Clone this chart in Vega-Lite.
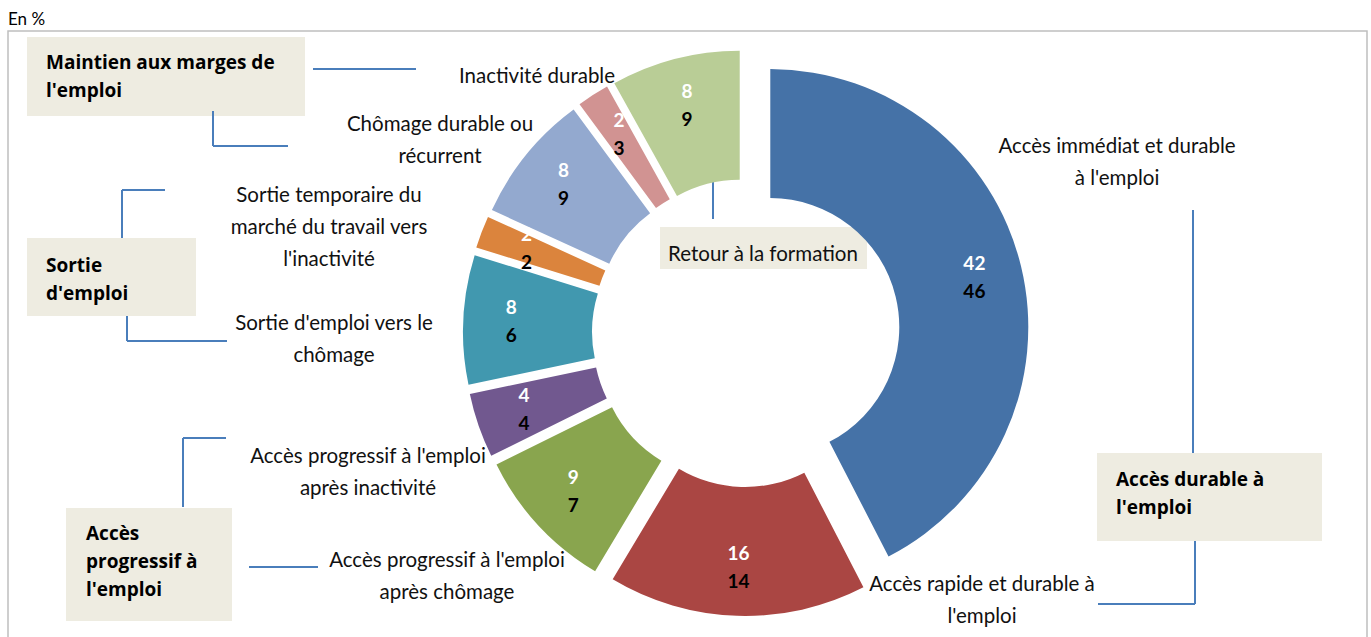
{
  "$schema": "https://vega.github.io/schema/vega-lite/v6.json",
  "width": 1371,
  "height": 637,
  "autosize": {"type": "none"},
  "padding": 0,
  "background": "white",
  "config": {"view": {"stroke": null}, "font": "Lato"},
  "datasets": {
    "segments": [
      {"categorie": "Accès immédiat et durable à l'emploi", "o": 1, "v1": 42, "v2": 46},
      {"categorie": "Accès rapide et durable à l'emploi", "o": 2, "v1": 16, "v2": 14},
      {"categorie": "Accès progressif à l'emploi après chômage", "o": 3, "v1": 9, "v2": 7},
      {"categorie": "Accès progressif à l'emploi après inactivité", "o": 4, "v1": 4, "v2": 4},
      {"categorie": "Sortie d'emploi vers le chômage", "o": 5, "v1": 8, "v2": 6},
      {"categorie": "Sortie temporaire du marché du travail vers l'inactivité", "o": 6, "v1": 2, "v2": 2},
      {"categorie": "Chômage durable ou récurrent", "o": 7, "v1": 8, "v2": 9},
      {"categorie": "Inactivité durable", "o": 8, "v1": 2, "v2": 3},
      {"categorie": "Retour à la formation", "o": 9, "v1": 8, "v2": 9}
    ],
    "frame": [{"x": 8, "x2": 1367, "y": 31, "y2": 645}],
    "boxes": [
      {"x": 27, "x2": 305, "y": 37, "y2": 116},
      {"x": 27, "x2": 196, "y": 238, "y2": 316},
      {"x": 66, "x2": 232, "y": 508, "y2": 621},
      {"x": 1097, "x2": 1322, "y": 453, "y2": 541},
      {"x": 660, "x2": 867, "y": 227, "y2": 269}
    ],
    "connectors": [
      {"x": 313, "y": 69, "x2": 416, "y2": 69},
      {"x": 213, "y": 111, "x2": 213, "y2": 146},
      {"x": 213, "y": 146, "x2": 288, "y2": 146},
      {"x": 122, "y": 190, "x2": 122, "y2": 238},
      {"x": 122, "y": 190, "x2": 165, "y2": 190},
      {"x": 127, "y": 316, "x2": 127, "y2": 341},
      {"x": 127, "y": 341, "x2": 227, "y2": 341},
      {"x": 183, "y": 438, "x2": 183, "y2": 507},
      {"x": 183, "y": 438, "x2": 226, "y2": 438},
      {"x": 249, "y": 567, "x2": 318, "y2": 567},
      {"x": 1193, "y": 210, "x2": 1193, "y2": 453},
      {"x": 1195, "y": 541, "x2": 1195, "y2": 604},
      {"x": 1098, "y": 604, "x2": 1195, "y2": 604},
      {"x": 713, "y": 181, "x2": 713, "y2": 219}
    ],
    "labels": [
      {"label": "Accès immédiat et durable\nà l'emploi", "x": 1117, "y": 153},
      {"label": "Accès rapide et durable à\nl'emploi", "x": 982, "y": 591},
      {"label": "Accès progressif à l'emploi\naprès chômage", "x": 447, "y": 567},
      {"label": "Accès progressif à l'emploi\naprès inactivité", "x": 368, "y": 463},
      {"label": "Sortie d'emploi vers le\nchômage", "x": 334, "y": 330},
      {"label": "Sortie  temporaire du\nmarché du travail vers\nl'inactivité", "x": 329, "y": 202},
      {"label": "Chômage durable ou\nrécurrent", "x": 440, "y": 131},
      {"label": "Inactivité durable", "x": 537, "y": 83},
      {"label": "Retour à la formation", "x": 763, "y": 261}
    ],
    "groups": [
      {"label": "Maintien aux marges de\nl'emploi", "x": 46, "y": 69},
      {"label": "Sortie\nd'emploi", "x": 46, "y": 272},
      {"label": "Accès\nprogressif à\nl'emploi", "x": 86, "y": 540},
      {"label": "Accès durable à\nl'emploi", "x": 1116, "y": 486}
    ],
    "note": [{"label": "En %", "x": 8, "y": 25}]
  },
  "layer": [
    {
      "data": {"name": "frame"},
      "mark": {"type": "rect", "fill": null, "stroke": "#BFBFBF", "strokeWidth": 1.5},
      "encoding": {
        "x": {"field": "x", "type": "quantitative", "scale": {"domain": [0, 1371], "nice": false, "zero": false}, "axis": null},
        "x2": {"field": "x2"},
        "y": {"field": "y", "type": "quantitative", "scale": {"domain": [0, 637], "reverse": true, "nice": false, "zero": false}, "axis": null},
        "y2": {"field": "y2"}
      }
    },
    {
      "data": {"name": "boxes"},
      "mark": {"type": "rect", "fill": "#EEECE1"},
      "encoding": {
        "x": {"field": "x", "type": "quantitative", "scale": {"domain": [0, 1371], "nice": false, "zero": false}, "axis": null},
        "x2": {"field": "x2"},
        "y": {"field": "y", "type": "quantitative", "scale": {"domain": [0, 637], "reverse": true, "nice": false, "zero": false}, "axis": null},
        "y2": {"field": "y2"}
      }
    },
    {
      "data": {"name": "connectors"},
      "mark": {"type": "rule", "stroke": "#4A7EBB", "strokeWidth": 2},
      "encoding": {
        "x": {"field": "x", "type": "quantitative", "scale": {"domain": [0, 1371], "nice": false, "zero": false}, "axis": null},
        "x2": {"field": "x2"},
        "y": {"field": "y", "type": "quantitative", "scale": {"domain": [0, 637], "reverse": true, "nice": false, "zero": false}, "axis": null},
        "y2": {"field": "y2"}
      }
    },
    {
      "data": {"name": "segments"},
      "mark": {
        "type": "arc",
        "innerRadius": 129,
        "outerRadius": 258,
        "xOffset": {"expr": "25*sin(scale('theta', (datum.v1_start + datum.v1_end)/2))"},
        "yOffset": {"expr": "-25*cos(scale('theta', (datum.v1_start + datum.v1_end)/2))"}
      },
      "encoding": {
        "x": {"datum": 746, "type": "quantitative", "scale": {"domain": [0, 1371], "nice": false, "zero": false}, "axis": null},
        "y": {"datum": 333, "type": "quantitative", "scale": {"domain": [0, 637], "reverse": true, "nice": false, "zero": false}, "axis": null},
        "theta": {"field": "v1", "type": "quantitative", "stack": true},
        "order": {"field": "o", "type": "quantitative"},
        "color": {
          "field": "categorie",
          "type": "nominal",
          "legend": null,
          "scale": {
            "domain": [
              "Accès immédiat et durable à l'emploi",
              "Accès rapide et durable à l'emploi",
              "Accès progressif à l'emploi après chômage",
              "Accès progressif à l'emploi après inactivité",
              "Sortie d'emploi vers le chômage",
              "Sortie temporaire du marché du travail vers l'inactivité",
              "Chômage durable ou récurrent",
              "Inactivité durable",
              "Retour à la formation"
            ],
            "range": ["#4572A7", "#AA4643", "#89A54E", "#71588F", "#4198AF", "#DB843D", "#93A9CF", "#D19392", "#B9CD96"]
          }
        }
      }
    },
    {
      "data": {"name": "segments"},
      "mark": {
        "type": "text",
        "radius": 210,
        "dy": -14,
        "fontSize": 19,
        "fontWeight": "bold",
        "fill": "white",
        "baseline": "middle",
        "xOffset": {"expr": "25*sin(scale('theta', (datum.v1_start + datum.v1_end)/2))"},
        "yOffset": {"expr": "-25*cos(scale('theta', (datum.v1_start + datum.v1_end)/2))"}
      },
      "encoding": {
        "x": {"datum": 746, "type": "quantitative", "scale": {"domain": [0, 1371], "nice": false, "zero": false}, "axis": null},
        "y": {"datum": 333, "type": "quantitative", "scale": {"domain": [0, 637], "reverse": true, "nice": false, "zero": false}, "axis": null},
        "theta": {"field": "v1", "type": "quantitative", "stack": true},
        "order": {"field": "o", "type": "quantitative"},
        "text": {"field": "v1", "type": "quantitative"}
      }
    },
    {
      "data": {"name": "segments"},
      "mark": {
        "type": "text",
        "radius": 210,
        "dy": 14,
        "fontSize": 19,
        "fontWeight": "bold",
        "fill": "black",
        "baseline": "middle",
        "xOffset": {"expr": "25*sin(scale('theta', (datum.v1_start + datum.v1_end)/2))"},
        "yOffset": {"expr": "-25*cos(scale('theta', (datum.v1_start + datum.v1_end)/2))"}
      },
      "encoding": {
        "x": {"datum": 746, "type": "quantitative", "scale": {"domain": [0, 1371], "nice": false, "zero": false}, "axis": null},
        "y": {"datum": 333, "type": "quantitative", "scale": {"domain": [0, 637], "reverse": true, "nice": false, "zero": false}, "axis": null},
        "theta": {"field": "v1", "type": "quantitative", "stack": true},
        "order": {"field": "o", "type": "quantitative"},
        "text": {"field": "v2", "type": "quantitative"}
      }
    },
    {
      "data": {"name": "labels"},
      "mark": {"type": "text", "fontSize": 20.5, "align": "center", "baseline": "alphabetic", "lineBreak": "\n", "lineHeight": 32, "fill": "#111111"},
      "encoding": {
        "x": {"field": "x", "type": "quantitative", "scale": {"domain": [0, 1371], "nice": false, "zero": false}, "axis": null},
        "y": {"field": "y", "type": "quantitative", "scale": {"domain": [0, 637], "reverse": true, "nice": false, "zero": false}, "axis": null},
        "text": {"field": "label", "type": "nominal"}
      }
    },
    {
      "data": {"name": "groups"},
      "mark": {"type": "text", "font": "Open Sans", "fontSize": 19, "fontWeight": "bold", "align": "left", "baseline": "alphabetic", "lineBreak": "\n", "lineHeight": 28, "fill": "black"},
      "encoding": {
        "x": {"field": "x", "type": "quantitative", "scale": {"domain": [0, 1371], "nice": false, "zero": false}, "axis": null},
        "y": {"field": "y", "type": "quantitative", "scale": {"domain": [0, 637], "reverse": true, "nice": false, "zero": false}, "axis": null},
        "text": {"field": "label", "type": "nominal"}
      }
    },
    {
      "data": {"name": "note"},
      "mark": {"type": "text", "fontSize": 17, "align": "left", "baseline": "alphabetic", "fill": "black"},
      "encoding": {
        "x": {"field": "x", "type": "quantitative", "scale": {"domain": [0, 1371], "nice": false, "zero": false}, "axis": null},
        "y": {"field": "y", "type": "quantitative", "scale": {"domain": [0, 637], "reverse": true, "nice": false, "zero": false}, "axis": null},
        "text": {"field": "label", "type": "nominal"}
      }
    }
  ]
}
